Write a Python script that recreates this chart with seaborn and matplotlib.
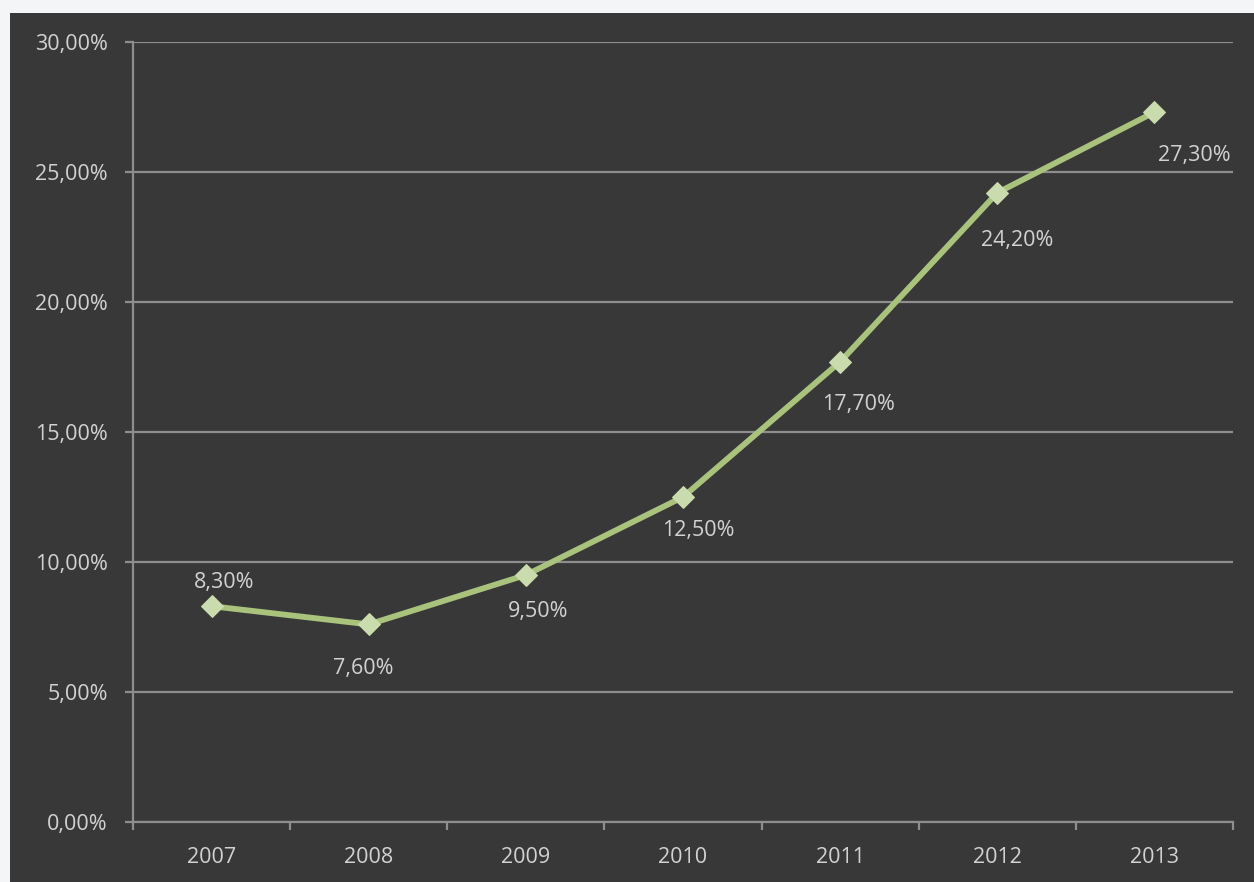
import matplotlib
matplotlib.use("Agg")
import matplotlib.pyplot as plt
from matplotlib.patches import Rectangle
from matplotlib.ticker import FixedLocator
import seaborn as sns
import pandas as pd

years = ["2007", "2008", "2009", "2010", "2011", "2012", "2013"]
share = [8.3, 7.6, 9.5, 12.5, 17.7, 24.2, 27.3]
y_ticks = [0, 5, 10, 15, 20, 25, 30]

# label offsets in points (dx, dy) relative to each marker
label_offsets = [(9, 17), (-4, -32), (9, -26), (11, -24), (13, -31), (14, -34), (29, -31)]

def pct(v):
    return f"{v:.2f}".replace(".", ",") + "%"

sns.set_theme(style="dark")
plt.rcParams["font.family"] = ["Open Sans", "DejaVu Sans"]

bg = "#383838"
grid_c = "#8e8e8e"
text_c = "#d2d2d2"
line_c = "#a9c27c"
marker_c = "#cadcae"
fs = 15.5

fig = plt.figure(figsize=(12.54, 8.82), dpi=100)
fig.patch.set_facecolor("#f4f5f7")
panel = Rectangle((10 / 1254, 0), 1 - 10 / 1254, 1 - 13 / 882,
                  transform=fig.transFigure, facecolor=bg,
                  edgecolor="none", zorder=-10)
fig.add_artist(panel)

ax = fig.add_axes([133 / 1254, 1 - 822 / 882, (1233 - 133) / 1254, (822 - 42) / 882])
ax.set_facecolor(bg)
ax.set_zorder(1)

df = pd.DataFrame({"year": years, "share": share})
df["pos"] = range(len(years))
sns.lineplot(data=df, x="pos", y="share", ax=ax, color=line_c, linewidth=4.2,
             marker="D", markersize=11, markerfacecolor=marker_c,
             markeredgecolor=marker_c, zorder=5)

for i, (v, (dx, dy)) in enumerate(zip(share, label_offsets)):
    ax.annotate(pct(v), (i, v), xytext=(dx, dy), textcoords="offset points",
                ha="center", va="center", color=text_c, fontsize=fs, zorder=6)

ax.set_xlim(-0.5, len(years) - 0.5)
ax.set_ylim(0, 30)
ax.set_xticks(range(len(years)))
ax.set_xticklabels(years)
ax.xaxis.set_minor_locator(FixedLocator([i + 0.5 for i in range(-1, len(years))]))
ax.set_yticks(y_ticks)
ax.set_yticklabels([pct(t) for t in y_ticks])

ax.grid(axis="y", color=grid_c, linewidth=1.6)
ax.grid(axis="x", visible=False)
ax.set_axisbelow(True)

ax.tick_params(axis="y", which="major", length=6, width=1.6, color=grid_c,
               labelcolor=text_c, labelsize=fs, pad=12, left=True)
ax.tick_params(axis="x", which="major", length=0, labelcolor=text_c,
               labelsize=fs, pad=18)
ax.tick_params(axis="x", which="minor", length=6, width=1.6, color=grid_c,
               bottom=True)

for side in ["top", "right"]:
    ax.spines[side].set_visible(False)
for side in ["left", "bottom"]:
    ax.spines[side].set_visible(True)
    ax.spines[side].set_color(grid_c)
    ax.spines[side].set_linewidth(1.6)

ax.set_xlabel("")
ax.set_ylabel("")

fig.savefig("out.png", dpi=100, facecolor=fig.get_facecolor())
